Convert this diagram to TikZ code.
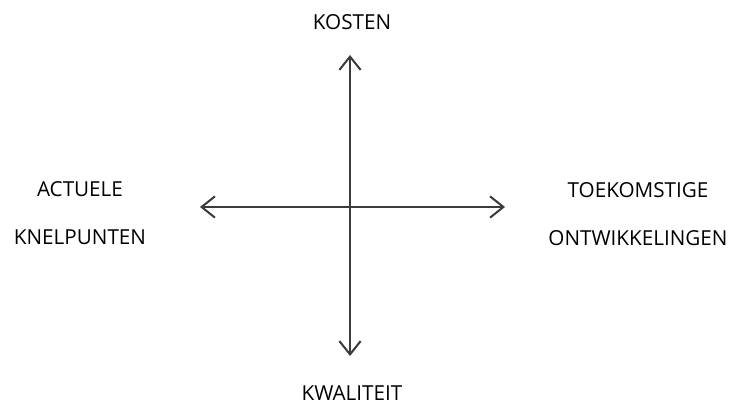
\documentclass[tikz,border=0pt]{standalone}
\usepackage{fontspec}
\setmainfont{Open Sans}
\usepackage{tikz}
\usetikzlibrary{positioning,arrows.meta}
\definecolor{axisgray}{HTML}{3C3C3C}
\tikzset{
  lbl/.style  ={align=center, inner sep=0pt, font=\fontsize{15.5}{36.5}\selectfont},
  axis/.style ={{Straight Barb[length=10pt,width=16pt]}-{Straight Barb[length=10pt,width=16pt]}, line width=1.5pt, draw=axisgray},
}
\begin{document}
\begin{tikzpicture}[x=0.75pt, y=-0.75pt]
  \useasboundingbox (0,0) rectangle (732,416);
  \coordinate (top) at (350,55);
  \coordinate (bottom) at (350,356);
  \coordinate (left) at (200,207);
  \coordinate (right) at (505,207);

  \node[lbl] (cost) at (352,22) {KOSTEN};
  \node[lbl] (quality) at (352,393) {KWALITEIT};
  \node[lbl] (issues) at (80,213) {ACTUELE\\KNELPUNTEN};
  \node[lbl] (trends) at (638,214) {TOEKOMSTIGE\\ONTWIKKELINGEN};

  \draw[axis] (bottom) -- (top);
  \draw[axis] (left) -- (right);
\end{tikzpicture}
\end{document}
